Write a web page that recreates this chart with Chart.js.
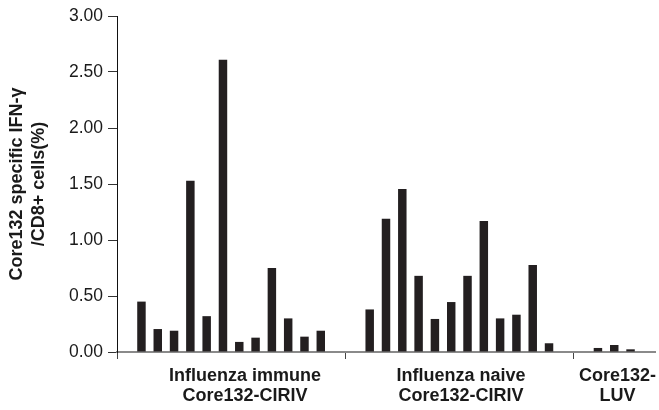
<!DOCTYPE html>
<html>
<head>
<meta charset="utf-8">
<script src="https://cdn.jsdelivr.net/npm/chart.js@4/dist/chart.umd.min.js"></script>
<style>
  html, body { margin: 0; padding: 0; background: #fff; }
  #wrap { width: 659px; height: 410px; }
</style>
</head>
<body>
<div id="wrap"><canvas id="chart" width="659" height="410"></canvas></div>
<script>
// values (% of CD8+ cells)
const immuneValues = [0.45, 0.205, 0.19, 1.53, 0.32, 2.61, 0.09, 0.128, 0.75, 0.30, 0.137, 0.19];
const naiveValues = [0.38, 1.19, 1.455, 0.68, 0.295, 0.446, 0.68, 1.17, 0.30, 0.333, 0.777, 0.078];
const luvValues = [0.036, 0.0625, 0.024];

const groupLabels = [
    ['Influenza immune', 'Core132-CIRIV'],
    ['Influenza naive', 'Core132-CIRIV'],
    ['Core132-', 'LUV'],
];
const yTicks = [0, 0.5, 1, 1.5, 2, 2.5, 3];

// one slot per bar, empty slots between the groups
const values = [null, ...immuneValues, null, null, ...naiveValues, null, null, ...luvValues, null];
const slots = values.map((v, i) => `s${i}`);

// slot index of the separator ticks, and where each group label sits
const separatorAt = [0, 14, 28];
const labelAt = [7.35, 20.6, 30.2];

const groupLabelPlugin = {
    id: 'groupLabels',
    afterDraw(chart) {
        const ctx = chart.ctx;
        const x = chart.scales.x;
        ctx.save();
        ctx.font = 'bold 18px "Liberation Sans", Arial, sans-serif';
        ctx.fillStyle = '#1a1a1a';
        ctx.textAlign = 'center';
        ctx.textBaseline = 'alphabetic';
        groupLabels.forEach((lines, g) => {
            const px = x.getPixelForValue(labelAt[g]);
            lines.forEach((line, i) => {
                ctx.fillText(line, px, 381 + i * 20);
            });
        });
        ctx.restore();
    },
};

new Chart(document.getElementById('chart'), {
    type: 'bar',
    data: {
        labels: slots,
        datasets: [{
            data: values,
            backgroundColor: '#231f20',
            barPercentage: 0.52,
            categoryPercentage: 1,
        }],
    },
    options: {
        responsive: false,
        animation: false,
        layout: { padding: { top: 16, right: 4, left: 0, bottom: 0 } },
        plugins: {
            legend: { display: false },
            tooltip: { enabled: false },
        },
        scales: {
            x: {
                afterFit: (scale) => { scale.height = 58; },
                border: { color: '#8a8a8a', width: 2 },
                grid: {
                    drawOnChartArea: false,
                    tickLength: 7,
                    color: (c) => separatorAt.includes(c.index) ? '#444' : 'rgba(0,0,0,0)',
                },
                ticks: { display: false, autoSkip: false },
            },
            y: {
                min: 0,
                max: 3,
                afterFit: (scale) => { scale.width = 117; },
                afterBuildTicks: (scale) => { scale.ticks = yTicks.map((v) => ({ value: v })); },
                border: { color: '#111', width: 1 },
                grid: { drawOnChartArea: false, tickLength: 9, color: '#333' },
                ticks: {
                    padding: 5,
                    color: '#1a1a1a',
                    font: { family: '"Liberation Sans", Arial, sans-serif', size: 17.5 },
                    callback: (v) => Number(v).toFixed(2),
                },
                title: {
                    display: true,
                    text: ['Core132 specific IFN-\u03b3', '/CD8+ cells(%)'],
                    color: '#1a1a1a',
                    font: { family: '"Liberation Sans", Arial, sans-serif', size: 18, weight: 'bold', lineHeight: 1.17 },
                    padding: { top: 7, bottom: 0 },
                },
            },
        },
    },
    plugins: [groupLabelPlugin],
});
</script>
</body>
</html>
